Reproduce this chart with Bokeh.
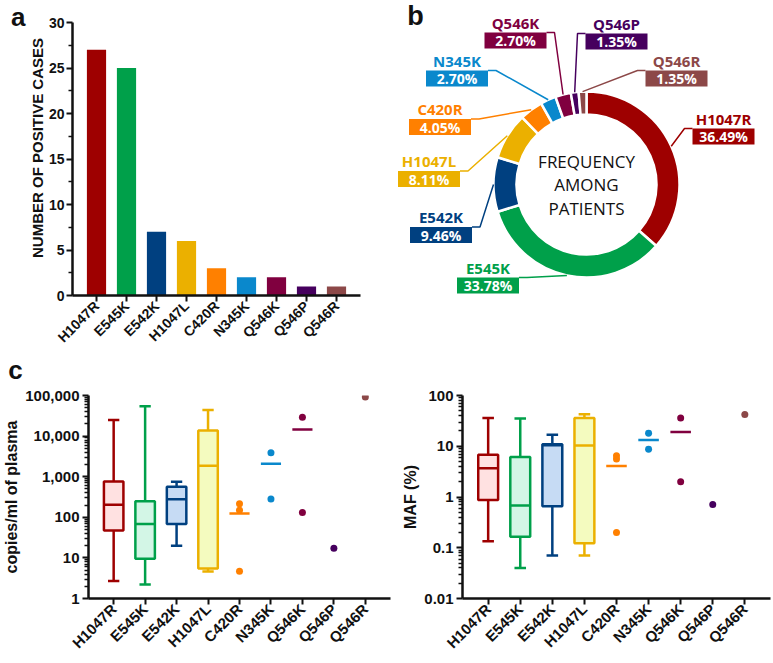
import math
from bokeh.plotting import figure
from bokeh.models import (FactorRange, Range1d, FixedTicker, NumeralTickFormatter,
                          LinearAxis, ColumnDataSource)
from bokeh.layouts import column, row
from bokeh.transform import dodge
from bokeh.core.properties import value
from bokeh.embed import file_html
from bokeh.resources import INLINE

# ---------------- data ----------------
mutations = ["H1047R", "E545K", "E542K", "H1047L", "C420R", "N345K", "Q546K", "Q546P", "Q546R"]
positive_cases = [27, 25, 7, 6, 3, 2, 2, 1, 1]
colors = ["#9E0000", "#00A04A", "#004080", "#EBB000", "#FF8000",
          "#0A88CC", "#80003F", "#46005E", "#8C4848"]
light_fills = ["#FFE1E1", "#D3F6E6", "#C6DBF4", "#F4FBBF"]

box_mutations = ["H1047R", "E545K", "E542K", "H1047L"]
copies_low = [2.7, 2.2, 20, 4.6]
copies_q1 = [47, 9.5, 68, 5.5]
copies_median = [205, 68, 279, 1850]
copies_q3 = [767, 249, 566, 13800]
copies_high = [25000, 54000, 750, 44000]
copies_point_mutations = ["C420R", "C420R", "C420R", "N345K", "N345K", "Q546K", "Q546K", "Q546P", "Q546R"]
copies_points = [215, 150, 4.7, 3900, 283, 29000, 131, 17.3, 92000]

maf_low = [0.134, 0.040, 0.070, 0.070]
maf_q1 = [0.875, 0.164, 0.656, 0.122]
maf_median = [3.7, 0.68, 10.5, 10.4]
maf_q3 = [6.8, 6.15, 10.9, 36.2]
maf_high = [36.2, 35.2, 16.9, 42.8]
maf_point_mutations = ["C420R", "C420R", "C420R", "N345K", "N345K", "Q546K", "Q546K", "Q546P", "Q546R"]
maf_points = [6.5, 5.6, 0.2, 18.0, 8.7, 36.2, 2.0, 0.71, 42.0]

count_ticks = [0, 5, 10, 15, 20, 25, 30]
count_minor_ticks = [2.5, 7.5, 12.5, 17.5, 22.5, 27.5]
copies_ticks = [1, 10, 100, 1000, 10000, 100000]
maf_ticks = [0.01, 0.1, 1, 10, 100]

center_text = ["FREQUENCY", "AMONG", "PATIENTS"]

# ---------------- layout constants (positions only) ----------------
label_box_pos = [(137, 48), (-98.5, -101), (-145.5, -50.5), (-157.5, 5.5), (-146.5, 57.5),
                 (-129.5, 106), (-71, 144), (30, 143), (90, 106)]
BOX_W, BOX_H = 62, 16
R_IN, R_OUT = 70, 93

FRAME1_H = 295                       # row-1 frames span from the page top to the x axis
ROW1_BOTTOM = 59
ROW1_H = FRAME1_H + ROW1_BOTTOM
TOP_GAP = 22                         # px between frame top and the "30" tick
STRIP_H = 31
ROW2_H = 275
PA_W = 395
PB_W = 773 - PA_W
PC1_W = 395
PC2_W = 773 - PC1_W

AX_FONT = "Liberation Sans"
INK = "#111111"


def style_axes(p, xlabel_size="14px"):
    p.outline_line_color = None
    p.grid.visible = False
    for ax in list(p.xaxis) + list(p.yaxis):
        ax.axis_line_width = 2.5
        ax.axis_line_color = INK
        ax.major_tick_line_width = 2
        ax.major_tick_line_color = INK
        ax.major_tick_out = 6
        ax.major_tick_in = 0
        ax.minor_tick_line_width = 1.5
        ax.minor_tick_line_color = INK
        ax.minor_tick_out = 4
        ax.minor_tick_in = 0
        ax.major_label_text_font = AX_FONT
        ax.major_label_text_font_style = "bold"
        ax.major_label_text_font_size = "15px"
        ax.major_label_text_color = INK
        ax.major_label_standoff = 3
        ax.axis_label_standoff = 2
        ax.axis_label_text_font = AX_FONT
        ax.axis_label_text_font_style = "bold"
        ax.axis_label_text_font_size = "16px"
        ax.axis_label_text_color = INK
    for ax in p.xaxis:
        ax.major_label_orientation = math.pi / 4
        ax.major_label_text_font_size = xlabel_size
        ax.major_label_standoff = 2


# ---------------- panel a ----------------
y_end_a = count_ticks[-1] * FRAME1_H / (FRAME1_H - TOP_GAP)
pa = figure(width=PA_W, height=ROW1_H,
            x_range=FactorRange(factors=mutations, range_padding=0.3, range_padding_units="absolute"),
            y_range=Range1d(0, y_end_a), output_backend="svg", toolbar_location=None,
            min_border_left=72, min_border_right=PA_W - 360, min_border_top=0,
            min_border_bottom=ROW1_BOTTOM)
src_a = ColumnDataSource(dict(m=mutations, n=positive_cases, c=colors))
pa.vbar(x="m", top="n", width=0.64, fill_color="c", line_color=None, source=src_a)
style_axes(pa)
pa.yaxis.ticker = FixedTicker(ticks=count_ticks, minor_ticks=count_minor_ticks)
pa.yaxis.bounds = (count_ticks[0], count_ticks[-1])
pa.yaxis.axis_label = "NUMBER OF POSITIVE CASES"
pa.yaxis.major_label_text_font_size = "14px"
pa.yaxis.major_label_standoff = 2
pa.yaxis.axis_label_standoff = 0
pa.yaxis.axis_label_text_font_size = "15px"
# panel letter "a" as the label of an outer, line-less axis
pa.extra_y_ranges = {"letter": Range1d(0, FRAME1_H)}
letter_a = LinearAxis(y_range_name="letter", ticker=FixedTicker(ticks=[FRAME1_H - 14]),
                      major_label_overrides={FRAME1_H - 14: "a"},
                      axis_line_color=None, major_tick_line_color=None, minor_tick_line_color=None,
                      major_tick_out=0, major_tick_in=0, minor_tick_out=0, minor_tick_in=0,
                      major_label_text_font=AX_FONT, major_label_text_font_style="bold",
                      major_label_text_font_size="26px", major_label_text_color=INK,
                      major_label_standoff=0)
pa.add_layout(letter_a, "left")

# ---------------- panel b (donut) ----------------
DONUT_CX = 586 - PA_W                # donut centre, px from the left edge of panel b
DONUT_CY = 184                       # donut centre, px below the top of panel b
pb = figure(width=PB_W, height=ROW1_H, x_range=Range1d(-DONUT_CX, PB_W - DONUT_CX),
            y_range=Range1d(-(FRAME1_H - DONUT_CY), DONUT_CY),
            output_backend="svg", toolbar_location=None,
            min_border_left=0, min_border_right=0, min_border_top=0, min_border_bottom=ROW1_BOTTOM,
            x_axis_location=None, y_axis_location=None)
pb.outline_line_color = None
pb.grid.visible = False
total = sum(positive_cases)
starts, ends, mids, pcts = [], [], [], []
cum = 0
for n in positive_cases:
    a0 = math.pi / 2 - 2 * math.pi * cum / total
    a1 = math.pi / 2 - 2 * math.pi * (cum + n) / total
    starts.append(a1)
    ends.append(a0)
    mids.append((a0 + a1) / 2)
    pcts.append("%.2f%%" % (100.0 * n / total))
    cum += n
src_b = ColumnDataSource(dict(m=mutations, s=starts, e=ends, c=colors))
pb.annular_wedge(x=0, y=0, inner_radius=R_IN, outer_radius=R_OUT, start_angle="s", end_angle="e",
                 fill_color="c", line_color="white", line_width=2.5, source=src_b)

xs, ys = [], []
bx = [p[0] for p in label_box_pos]
by = [p[1] for p in label_box_pos]
for am, (cx, cy) in zip(mids, label_box_pos):
    rx, ry = R_OUT * math.cos(am), R_OUT * math.sin(am)
    top = cy + BOX_H / 2
    if cx > rx:
        edge = cx - BOX_W / 2
        elbow = edge - 8
    else:
        edge = cx + BOX_W / 2
        elbow = edge + 8
    xs.append([rx, elbow, edge])
    ys.append([ry, top, top])
src_l = ColumnDataSource(dict(xs=xs, ys=ys, c=colors, bx=bx, by=by,
                              ny=[v + 18 for v in by], m=mutations, p=pcts))
pb.multi_line(xs="xs", ys="ys", line_color="c", line_width=1.5, source=src_l)
pb.rect(x="bx", y="by", width=BOX_W, height=BOX_H, fill_color="c", line_color=None, source=src_l)
pb.text(x="bx", y="by", text="p", text_color="white", text_font=value("Open Sans"),
        text_font_style="bold", text_font_size="14px", text_align="center",
        text_baseline="middle", source=src_l)
pb.text(x="bx", y="ny", text="m", text_color="c", text_font=value("Open Sans"),
        text_font_style="bold", text_font_size="15px", text_align="center",
        text_baseline="middle", source=src_l)
pb.text(x=[0] * len(center_text), y=[23.5 * (1 - i) for i in range(len(center_text))],
        text=center_text, text_color=INK, text_font=value("Open Sans"), text_font_size="17px",
        text_align="center", text_baseline="middle")
pb.text(x=[415 - 586], y=[DONUT_CY - 15], text=["b"], text_color=INK, text_font=value(AX_FONT),
        text_font_style="bold", text_font_size="27px", text_align="center",
        text_baseline="middle")

# ---------------- strip holding the letter "c" ----------------
ps = figure(width=773, height=STRIP_H, x_range=Range1d(0, 773), y_range=Range1d(0, STRIP_H),
            output_backend="svg", toolbar_location=None, min_border=0,
            x_axis_location=None, y_axis_location=None)
ps.outline_line_color = None
ps.grid.visible = False
ps.text(x=[15], y=[16], text=["c"], text_color=INK, text_font=value(AX_FONT),
        text_font_style="bold", text_font_size="26px", text_align="center",
        text_baseline="middle")


# ---------------- panel c ----------------
def box_panel(width, borders, y_lo, y_hi, ticks, fmt, ylabel,
              low, q1, med, q3, high, pt_m, pt_v):
    p = figure(width=width, height=ROW2_H,
               x_range=FactorRange(factors=mutations, range_padding=0.3, range_padding_units="absolute"),
               y_range=Range1d(y_lo, y_hi), y_axis_type="log",
               output_backend="svg", toolbar_location=None,
               min_border_left=borders[0], min_border_right=borders[1],
               min_border_top=borders[2], min_border_bottom=borders[3])
    nb = len(box_mutations)
    src = ColumnDataSource(dict(m=box_mutations, lo=low, q1=q1, md=med, q3=q3, hi=high,
                                c=colors[:nb], f=light_fills))
    p.segment(x0="m", y0="lo", x1="m", y1="q1", line_color="c", line_width=2.5, source=src)
    p.segment(x0="m", y0="q3", x1="m", y1="hi", line_color="c", line_width=2.5, source=src)
    for col in ("lo", "hi"):
        p.segment(x0=dodge("m", -0.18, range=p.x_range), y0=col,
                  x1=dodge("m", 0.18, range=p.x_range), y1=col,
                  line_color="c", line_width=2.5, source=src)
    p.vbar(x="m", bottom="q1", top="q3", width=0.62, fill_color="f", line_color="c",
           line_width=2.5, source=src)
    p.segment(x0=dodge("m", -0.31, range=p.x_range), y0="md",
              x1=dodge("m", 0.31, range=p.x_range), y1="md",
              line_color="c", line_width=2.5, source=src)
    cmap = dict(zip(mutations, colors))
    srcp = ColumnDataSource(dict(m=pt_m, v=pt_v, c=[cmap[k] for k in pt_m]))
    p.scatter(x="m", y="v", size=7, fill_color="c", line_color=None, source=srcp)
    groups = {}
    for k, v in zip(pt_m, pt_v):
        groups.setdefault(k, []).append(v)
    mm = [k for k in groups if len(groups[k]) > 1]
    mv = [sum(groups[k]) / len(groups[k]) for k in mm]
    srcm = ColumnDataSource(dict(m=mm, v=mv, c=[cmap[k] for k in mm]))
    p.segment(x0=dodge("m", -0.32, range=p.x_range), y0="v",
              x1=dodge("m", 0.32, range=p.x_range), y1="v",
              line_color="c", line_width=2.5, source=srcm)
    style_axes(p, "15px")
    minors = []
    for t in ticks[:-1]:
        minors += [t * k for k in range(2, 10)]
    p.yaxis.ticker = FixedTicker(ticks=ticks, minor_ticks=minors)
    p.yaxis.formatter = NumeralTickFormatter(format=fmt)
    p.yaxis.axis_label = ylabel
    return p


pc1 = box_panel(PC1_W, (88, PC1_W - 390, 10, 61), 1, 100000, copies_ticks, "0,0",
                "copies/ml of plasma",
                copies_low, copies_q1, copies_median, copies_q3, copies_high,
                copies_point_mutations, copies_points)
pc2 = box_panel(PC2_W, (462 - PC1_W, 3, 8, 61), 0.01, 100, maf_ticks, "0.[00]", "MAF (%)",
                maf_low, maf_q1, maf_median, maf_q3, maf_high,
                maf_point_mutations, maf_points)

layout = column(row(pa, pb), ps, row(pc1, pc2))
open("out.html", "w").write(file_html(layout, INLINE))
